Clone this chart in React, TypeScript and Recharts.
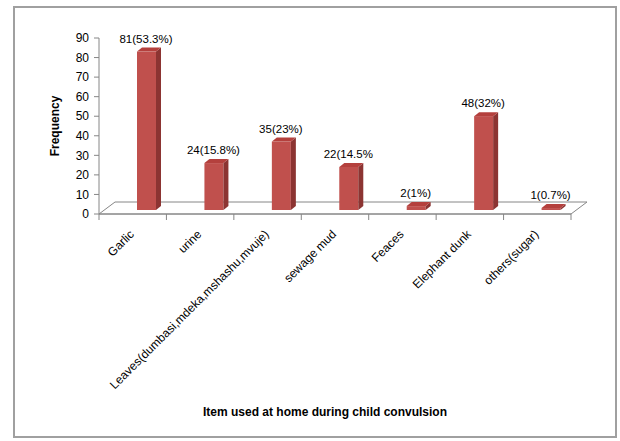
import React from 'react'
import { Bar, BarChart, LabelList, ReferenceLine, XAxis, YAxis } from 'recharts'

const categories = [
  'Garlic',
  'urine',
  'Leaves(dumbasi,mdeka,mshashu,mvuje)',
  'sewage mud',
  'Feaces',
  'Elephant dunk',
  'others(sugar)',
]
const counts = [81, 24, 35, 22, 2, 48, 1]
const valueLabels = ['81(53.3%)', '24(15.8%)', '35(23%)', '22(14.5%', '2(1%)', '48(32%)', '1(0.7%)']
const yTicks = [0, 10, 20, 30, 40, 50, 60, 70, 80, 90]

const data = categories.map((name, i) => ({ name, count: counts[i], label: valueLabels[i] }))

const font = "'Liberation Sans', Arial, sans-serif"
const axisGray = '#868686'
// 3d look: bars sit in the middle of the floor depth
const BAR_DX = 14
const BAR_DY = -4
const DEPTH_X = 5
const DEPTH_Y = -4
const FLOOR_X = 16
const FLOOR_Y = -12

function Bar3D(props: any) {
  const { x, y, width, height } = props
  const fx = x + BAR_DX
  const fy = y + BAR_DY
  const w = width
  const h = Math.max(height, 0)
  return (
    <g>
      <rect x={fx} y={fy} width={w} height={h} fill="#C0504D" />
      <polygon
        points={`${fx + w},${fy} ${fx + w + DEPTH_X},${fy + DEPTH_Y} ${fx + w + DEPTH_X},${fy + h + DEPTH_Y} ${fx + w},${fy + h}`}
        fill="#8C3432"
      />
      <polygon
        points={`${fx},${fy} ${fx + DEPTH_X},${fy + DEPTH_Y} ${fx + w + DEPTH_X},${fy + DEPTH_Y} ${fx + w},${fy}`}
        fill="#B4403D"
      />
    </g>
  )
}

function Floor(props: any) {
  const { x1, y1, x2, y2 } = props
  const n = categories.length
  const step = (x2 - x1) / n
  const ticks = Array.from({ length: n + 1 }, (_, i) => x1 + i * step)
  return (
    <g>
      <polygon
        points={`${x1},${y1} ${x1 + FLOOR_X},${y1 + FLOOR_Y} ${x2 + FLOOR_X},${y2 + FLOOR_Y} ${x2},${y2}`}
        fill="#fff"
        stroke={axisGray}
        strokeWidth={1}
      />
      {ticks.map((tx, i) => (
        <line key={i} x1={tx} y1={y1} x2={tx} y2={y1 + 6} stroke={axisGray} />
      ))}
    </g>
  )
}

function CategoryTick(props: any) {
  const { x, y, payload } = props
  const ax = x + 2
  const ay = y + 13
  return (
    <text
      x={ax}
      y={ay}
      transform={`rotate(-45, ${ax}, ${ay})`}
      textAnchor="end"
      fontSize={12}
      fontFamily={font}
      fill="#000"
    >
      {payload.value}
    </text>
  )
}

function ValueLabel(props: any) {
  const { x, y, width, index } = props
  return (
    <text
      x={x + width / 2 + BAR_DX - 0.5}
      y={y - 13}
      textAnchor="middle"
      fontSize={11.5}
      fontFamily={font}
      fill="#000"
    >
      {valueLabels[index]}
    </text>
  )
}

export default function App() {
  return (
    <div style={{ position: 'absolute', left: 0, top: 0, width: 620, height: 441, background: '#fff' }}>
      <div
        style={{
          position: 'absolute',
          left: 13,
          top: 6,
          width: 604,
          height: 432,
          border: '2px solid #a0a0a0',
          boxSizing: 'border-box',
        }}
      />
      <div style={{ position: 'absolute', left: 0, top: 0 }}>
        <BarChart
          width={620}
          height={441}
          data={data}
          margin={{ top: 38, right: 49, left: 54, bottom: 22 }}
          barSize={19}
        >
          <ReferenceLine y={0} zIndex={100} shape={(p: any) => <Floor {...p} />} ifOverflow="visible" />
          <XAxis
            dataKey="name"
            interval={0}
            height={205}
            axisLine={{ stroke: axisGray }}
            tickLine={false}
            tick={<CategoryTick />}
            label={{
              content: () => (
                <text x={325} y={416} textAnchor="middle" fontSize={12} fontWeight="bold" fontFamily={font} fill="#000">
                  Item used at home during child convulsion
                </text>
              ),
            }}
          />
          <YAxis
            width={45}
            domain={[0, 90]}
            ticks={yTicks}
            interval={0}
            axisLine={{ stroke: axisGray }}
            tickLine={{ stroke: axisGray }}
            tickSize={5}
            tickMargin={5}
            tick={{ fontSize: 12, fontFamily: font, fill: '#000' }}
            label={{
              content: () => (
                <text
                  x={59}
                  y={126}
                  transform="rotate(-90, 59, 126)"
                  textAnchor="middle"
                  fontSize={12}
                  fontWeight="bold"
                  fontFamily={font}
                  fill="#000"
                >
                  Frequency
                </text>
              ),
            }}
          />
          <Bar dataKey="count" isAnimationActive={false} shape={(p: any) => <Bar3D {...p} />}>
            <LabelList dataKey="label" content={(p: any) => <ValueLabel {...p} />} />
          </Bar>
        </BarChart>
      </div>
    </div>
  )
}
